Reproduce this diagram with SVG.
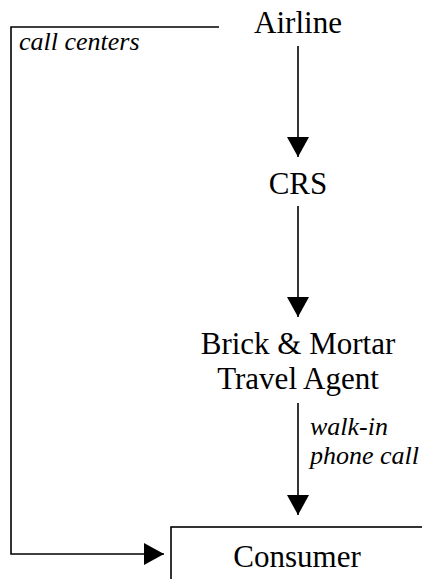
<svg xmlns="http://www.w3.org/2000/svg" width="422" height="579" viewBox="0 0 422 579">
  <style>
    .node { font-family: "Liberation Serif", "Times New Roman", serif; font-size: 31px; fill: #000; text-anchor: middle; }
    .lbl { font-family: "Liberation Serif", "Times New Roman", serif; font-size: 26px; font-style: italic; fill: #000; }
    .conn { stroke: #000; stroke-width: 1.6; fill: none; }
    .box { stroke: #000; stroke-width: 1.6; fill: #fff; }
  </style>
  <defs>
    <marker id="arrow" markerUnits="userSpaceOnUse" markerWidth="20" markerHeight="22" refX="20" refY="11" orient="auto" viewBox="0 0 20 22">
      <path d="M0,0 L20,11 L0,22 Z" fill="#000"/>
    </marker>
  </defs>
  <rect width="422" height="579" fill="#fff"/>
  <g id="connectors">
    <line class="conn" x1="298" y1="46" x2="298" y2="157" marker-end="url(#arrow)"/>
    <line class="conn" x1="298" y1="206" x2="298" y2="317" marker-end="url(#arrow)"/>
    <line class="conn" x1="298" y1="403" x2="298" y2="515" marker-end="url(#arrow)"/>
    <polyline class="conn" points="219,27 11,27 11,554 164,554" marker-end="url(#arrow)"/>
    <text class="lbl" x="19" y="50">call centers</text>
    <text class="lbl" x="310" y="435">walk-in</text>
    <text class="lbl" x="310" y="464">phone call</text>
  </g>
  <g id="airline">
    <text class="node" x="298" y="33">Airline</text>
  </g>
  <g id="crs">
    <text class="node" x="298" y="194">CRS</text>
  </g>
  <g id="travel-agent">
    <text class="node" x="298" y="354">Brick &amp; Mortar</text>
    <text class="node" x="298" y="389">Travel Agent</text>
  </g>
  <g id="consumer">
    <rect class="box" x="171" y="527" width="270" height="70"/>
    <text class="node" x="297" y="567">Consumer</text>
  </g>
</svg>
